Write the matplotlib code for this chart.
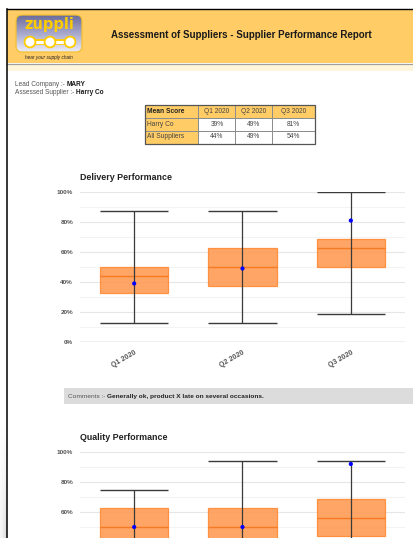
import matplotlib
matplotlib.use('Agg')
import matplotlib.pyplot as plt
import numpy as np
from matplotlib.colors import LinearSegmentedColormap
from matplotlib.patches import Rectangle, FancyBboxPatch, Circle

plt.rcParams['font.family'] = ['Liberation Sans', 'DejaVu Sans']

# summary table
quarters = ['Q1 2020', 'Q2 2020', 'Q3 2020']
table_rows = ['Harry Co', 'All Suppliers']
harry_means = [39, 49, 81]
all_means = [44, 49, 54]

# delivery box stats (percent)
del_low = [12.5, 12.5, 18.75]
del_q1 = [33, 37.5, 50]
del_med = [43.75, 50, 62.5]
del_q3 = [50, 62.5, 68.75]
del_high = [87.5, 87.5, 100]

# quality box stats (percent)
qual_low = [12.5, 25, 18.75]
qual_q1 = [37.5, 37.5, 43.75]
qual_med = [50, 50, 56.25]
qual_q3 = [62.5, 62.5, 68.75]
qual_high = [75, 93.75, 93.75]
qual_mean = [50, 50, 92]

W, H = 414, 538
fig = plt.figure(figsize=(W / 100, H / 100), dpi=100, facecolor='white')
page = fig.add_axes([0, 0, 1, 1])
page.set_xlim(0, W)
page.set_ylim(H, 0)
page.axis('off')

# page frame and header band
page.add_patch(Rectangle((7, 9), W - 7, 54, facecolor='#FFCC66', edgecolor='none'))
page.add_patch(Rectangle((7, 64), W - 7, 7, facecolor='#FFF4DC', edgecolor='none'))
page.plot([7, W], [63.5, 63.5], color='#A0A0A0', lw=0.9)
page.plot([7, W], [9, 9], color='black', lw=1.0)
page.plot([7, 7], [9, H], color='black', lw=1.1)

# soft shadow left of the frame
shade = np.linspace(0, 1, 60)[:, None] * np.linspace(0.3, 1, 7)[None, :]
page.imshow(shade, extent=(0, 6.5, H, 420), cmap='Greys', vmin=0, vmax=4,
            aspect='auto', zorder=0)

# logo
logo_cmap = LinearSegmentedColormap.from_list('logo', ['#6C6C9C', '#A8A8CC', '#ECECF8'])
grad = np.linspace(0, 1, 50)[:, None] * np.ones((1, 10))
logo_box = FancyBboxPatch((16, 15), 66, 37, boxstyle='round,pad=0,rounding_size=6',
                          facecolor='none', edgecolor='#F2C230', lw=0.9, zorder=3)
page.add_patch(logo_box)
img = page.imshow(grad, extent=(16, 82, 52, 15), cmap=logo_cmap, aspect='auto', zorder=2)
img.set_clip_path(logo_box)
page.text(49, 25, 'zuppli', ha='center', va='center', fontsize=10.5, fontweight='bold',
          color='#FFCC00', family='DejaVu Sans', zorder=4)
page.plot([30, 70], [42, 42], color='#FFCC00', lw=4.2, zorder=4, solid_capstyle='butt')
page.plot([30, 70], [42, 42], color='white', lw=2.2, zorder=4, solid_capstyle='butt')
for cx in (30, 50, 70):
    page.add_patch(Circle((cx, 42), 5.4, facecolor='white', edgecolor='#FFCC00', lw=1.3, zorder=5))
page.text(49, 57.5, 'hear your supply chain', ha='center', va='center', fontsize=3.4,
          style='italic', color='#222222')

page.text(241, 35, 'Assessment of Suppliers - Supplier Performance Report', ha='center',
          va='center', fontsize=7.05, fontweight='bold', color='#1A1A1A')

renderer = fig.canvas.get_renderer()


def two_part(x, y, plain, bold, size, plain_color='#555555', bold_color='#1A1A1A'):
    t = page.text(x, y, plain, ha='left', va='center', fontsize=size, color=plain_color)
    bb = t.get_window_extent(renderer)
    x_end = page.transData.inverted().transform((bb.x1, bb.y0))[0]
    page.text(x_end, y, bold, ha='left', va='center', fontsize=size,
              fontweight='bold', color=bold_color)


two_part(15, 84, 'Lead Company :- ', 'MARY', 4.7)
two_part(15, 92, 'Assessed Supplier :- ', 'Harry Co', 4.7)

# mean score table
col_edges = [145, 198.5, 235.5, 272.5, 315]
row_edges = [105, 117.7, 130.5, 143.5]
cells = [['Mean Score'] + quarters,
         [table_rows[0]] + [f'{v}%' for v in harry_means],
         [table_rows[1]] + [f'{v}%' for v in all_means]]
for r in range(3):
    for c in range(4):
        x0, x1 = col_edges[c], col_edges[c + 1]
        y0, y1 = row_edges[r], row_edges[r + 1]
        orange = r == 0 or c == 0
        page.add_patch(Rectangle((x0, y0), x1 - x0, y1 - y0,
                                 facecolor='#FFCC66' if orange else 'white',
                                 edgecolor='#8C8C8C', lw=0.7))
        if c == 0:
            page.text(x0 + 2.5, (y0 + y1) / 2, cells[r][c], ha='left', va='center',
                      fontsize=4.8, color='#222222' if r == 0 else '#444444',
                      fontweight='bold' if r == 0 else 'normal')
        else:
            page.text((x0 + x1) / 2, (y0 + y1) / 2, cells[r][c], ha='center', va='center',
                      fontsize=4.8, color='#444444')
page.add_patch(Rectangle((col_edges[0], row_edges[0]), col_edges[-1] - col_edges[0],
                         row_edges[-1] - row_edges[0], facecolor='none',
                         edgecolor='#555555', lw=0.9))

# comments strip
page.add_patch(Rectangle((64, 388), W - 64, 16, facecolor='#DCDCDC', edgecolor='none'))
two_part(68, 396.5, 'Comments :- ', 'Generally ok, product X late on several occasions.', 4.65,
         plain_color='#555555', bold_color='#222222')

page.text(80, 177, 'Delivery Performance', ha='left', va='center', fontsize=6.4,
          fontweight='bold', color='#222222')
page.text(80, 438, 'Quality Performance', ha='left', va='center', fontsize=6.4,
          fontweight='bold', color='#222222')


def box_chart(ax, low, q1, med, q3, high, mean, show_x=True, min_label=0.0):
    pos = np.arange(len(quarters))
    width = 0.63
    ax.set_xlim(-0.5, len(quarters) - 0.5)
    ax.set_ylim(0, 1)
    major = np.arange(0, 1.01, 0.2)
    ax.set_yticks(major)
    ax.set_yticks(np.arange(0.1, 1.0, 0.2), minor=True)
    ax.set_yticklabels([f'{int(round(v * 100))}%' if v >= min_label - 1e-9 else ''
                        for v in major])
    ax.grid(axis='y', which='major', color='#E6E6E6', lw=0.8)
    ax.grid(axis='y', which='minor', color='#F3F3F3', lw=0.8)
    ax.set_axisbelow(True)
    for s in ax.spines.values():
        s.set_visible(False)
    ax.axhline(0, color='#9A9A9A', lw=0.9, zorder=1)
    ax.tick_params(axis='y', which='both', length=0, labelsize=4.6,
                   labelcolor='#555555', pad=5)
    ax.tick_params(axis='x', which='both', length=0, labelsize=5.1,
                   labelcolor='#555555', pad=5)
    ax.set_xticks(pos)
    if show_x:
        ax.set_xticklabels(quarters, rotation=30, ha='right', rotation_mode='anchor',
                           fontweight='bold')
    else:
        ax.set_xticklabels([])
    for lab in ax.get_yticklabels():
        lab.set_fontweight('bold')

    low, q1, med, q3, high, mean = [np.asarray(v) / 100 for v in (low, q1, med, q3, high, mean)]
    ax.bar(pos, q3 - q1, bottom=q1, width=width, color='#FF9B55', alpha=0.9,
           edgecolor='#FF8A33', lw=0.9, zorder=2)
    ax.hlines(med, pos - width / 2, pos + width / 2, color='#F57A22', lw=1.0, zorder=3)
    ax.vlines(pos, low, high, color='#3A3A3A', lw=0.9, zorder=4)
    ax.hlines(high, pos - width / 2, pos + width / 2, color='#3A3A3A', lw=1.0, zorder=4)
    ax.hlines(low, pos - width / 2, pos + width / 2, color='#3A3A3A', lw=1.0, zorder=4)
    ax.scatter(pos, mean, s=9, color='#0000FF', zorder=5, edgecolors='none')


ax1 = fig.add_axes([80 / W, (H - 342) / H, 325 / W, 150 / H])
box_chart(ax1, del_low, del_q1, del_med, del_q3, del_high, harry_means)

# lower chart runs past the bottom edge of the page
ax2 = fig.add_axes([80 / W, (H - 602) / H, 325 / W, 150 / H])
box_chart(ax2, qual_low, qual_q1, qual_med, qual_q3, qual_high, qual_mean,
          show_x=False, min_label=0.6)

fig.savefig('out.png', dpi=100)
